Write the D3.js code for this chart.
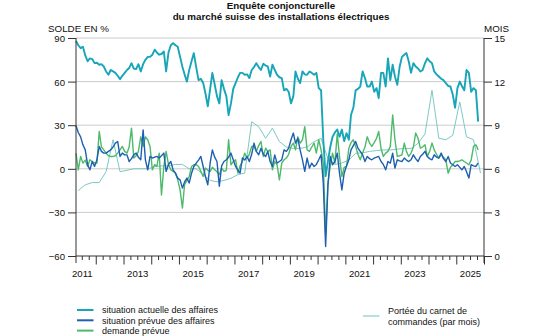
<!DOCTYPE html>
<html>
<head>
<meta charset="utf-8">
<script src="https://cdn.jsdelivr.net/npm/d3@7"></script>
<style>
  body { margin: 0; background: #fff; }
  svg { display: block; font-family: "Liberation Sans", Arial, sans-serif; }
</style>
</head>
<body>
<svg id="chart" width="560" height="336"></svg>
<script>
// Monthly balances, April 2011 – October 2025 (one row per calendar year)
const actuelle = [
  88, 85, 83, 84, 78, 74, 76, 75.5, 72.7,
  73, 71.6, 72, 70.4, 67, 64.7, 68, 67, 66, 64, 61.7, 64,
  66, 68, 69.3, 72.7, 69, 68.6, 72, 67, 72, 75, 77, 77,
  78.5, 82, 80, 78.5, 79, 80.7, 67, 80, 85, 86.5, 85, 84,
  77, 70, 65, 60, 68, 74, 79.6, 70, 61, 62, 59, 52,
  43, 55, 66, 58, 50, 45, 61, 55, 50, 37, 45, 55,
  59, 63, 66, 66, 64.7, 65, 62.4, 68, 70, 72.7, 70, 68,
  72.3, 71, 70.4, 63.5, 71.6, 68, 64.7, 63, 62.4, 54, 55, 53,
  45, 50, 67, 62, 59, 67, 65, 64.7, 67, 66, 64.7, 66,
  55.5, 54, 20, -5, 5, 15, 22, 25, 27, 22, 27, 19,
  24.5, 20, 37, 42, 54, 55, 56.6, 67, 62.4, 56.6, 56.6, 60,
  53, 55.5, 48.6, 66, 66, 56.6, 76, 61, 71.6, 63.5, 57.8, 70,
  77, 78.5, 79.6, 73.8, 66, 72.7, 70.4, 69, 67, 68, 72.7, 76,
  74, 72.7, 67, 65, 63.5, 62, 61, 59, 57, 56.6, 51, 42,
  55.5, 60, 57, 54, 68, 66, 53, 55.5, 54, 32.5
];
const prevue = [
  29.6, 25, 22, 16.5, 13, 2.8, -0.7, 5, 1.6,
  6, 15.4, 12, 10.8, 10.8, 12, 13, 15, 17.7, 18.8, 8.5, 10.8,
  9.6, 9.6, 5, 7, 9.6, 10.8, 8, 6.2, 26.8, 6.2, -0.7, 8.5,
  7.4, 8, 8.5, 7.4, 9, 10.8, -1.8, 3, 5, -0.7, -3, -6.4,
  -7.6, -13.3, -9, -6.4, -9.8, -3, 1.6, 3.9, 6, 8.5, 1.6, -5.3,
  -11, 4, 13, 8, 5, -12, 2, 5, 6.2, 8, 10.8, 6.2,
  1.6, -1, -3, 7.4, 6, 8.5, 5, 10, 17.7, 12, 9.6, 14.2,
  10, 8.5, 12, 5, 1.6, 9.6, 3.9, 5, 6.2, 13, 12, 14.2,
  20, 24.6, 17.7, 21, 13, 6.2, -1.8, 7.4, 0.5, 3.9, 1.6, 3,
  6.2, 9.6, -9.8, -53.5, -12, 8.5, 2.8, 5, 10.8, -3, -14.5, -3,
  2, 6.2, 13, 16, 18.8, 14.2, 12, 9.6, 5, 8.5, 7, 6.2,
  7.4, 8, 8.5, 5, 3, -0.7, 5, 3.9, 10.8, 0.5, 6.2, 5.5,
  5, 7.4, 6, 5, 6.2, 9.6, 7, 5, 8.5, 10, 12, 8.5,
  7, 6.2, 9.6, 8, 7.4, 10.8, 7, 5, 8.5, 4, 2.8, 1.6,
  2.8, 1, -0.7, 1.6, -2, -6.4, 2.8, 2, 1.6, 3.9
];
const demande = [
  10.8, -0.7, 8.5, 3.9, 6, 1.6, 6.2, 5, 4,
  3.9, 25.7, 15, 13, 10.8, 9, 8.5, 8.5, 9, 10.8, 13, 15.4,
  12, 10.8, 15, 28, 7.4, 9, 12, 22, 15.4, 22, 20, 15.4,
  -0.7, 3, 1.6, 10.8, -18, 1.6, 12, 3, -0.7, -1.8, -3, -7.6,
  -14.5, -27, -11, -8, -5.3, 1.6, 2.8, 3, 1.6, -1.8, -5.3, 0.5,
  -1, -1.8, 1, -0.7, -2, -4, 0.5, -1.8, -1, 20, 2.8, 5,
  6.2, -3, 2, 5, 10.8, 7.4, 10, 15.4, 15.4, 12, 16, 18.8,
  8.5, 14.2, 12, 13, -0.7, 5, 2.8, -7.6, 4, 6.2, 7.4, 10,
  15.4, 17.7, 13, 22, 17.7, 20, 29, 13, 12, 15, 17.7, 10.8,
  20, 13, 3.9, -45, -10, 1.6, 10.8, 3.9, 24, 8.5, -5.3, 1,
  1.6, 14.2, 18, 20, 15.4, 10, 6.2, 10.8, 15, 22, 17.7, 15.4,
  18, 21, 25.7, 14, 8.5, 10.8, 12, 15.4, 37, 20, 8.5, 9,
  9.6, 17.7, 12, 8.5, 10.8, 15, 24.6, 21, 14.2, 15, 16.5, 8.5,
  12, 17.7, 13, 10, 7.4, 9.6, 8, 6.2, -3, 1, 2.8, 5,
  5, 5.5, 6.2, 5, 4, 2.8, 6, 15.4, 16.5, 13
];
// Order book reach in months, quarterly from May 2011
const portee = [
  4.5, 4.9, 5.05, 5.05, 5.8, 8.0, 5.8, 5.9, 6.0, 6.0, 6.0, 6.15,
  6.2, 6.2, 6.3, 6.3, 6.0, 6.0, 5.6, 5.2, 5.1, 5.2, 5.35, 5.6,
  5.7, 9.24, 8.9, 8.1, 8.8, 7.87, 7.5, 7.4, 7.4, 7.5, 7.87, 8.1,
  6.7, 6.3, 6.4, 6.6, 7.07, 7.1, 7.2, 7.25, 7.3, 7.3, 7.35, 7.4,
  7.4, 7.75, 8.4, 11.4, 8.1, 8.0, 8.3, 10.6, 8.2, 8.0, 5.7
];

const leftTicks = [-60, -30, 0, 30, 60, 90];
const rightTicks = [0, 3, 6, 9, 12, 15];
const yearLabels = [2011, 2013, 2015, 2017, 2019, 2021, 2023, 2025];

const COL = { actuelle: "#17a5b8", prevue: "#1d5fb0", demande: "#4cb96b", portee: "#6cc3bd" };

const monthDate = (i) => new Date(2011, 3 + i, 16);

const L = 76, R = 484, T = 38, B = 256;
const svg = d3.select("#chart");

const x = d3.scaleTime().domain([new Date(2011, 3, 16), new Date(2026, 0, 1)]).range([L, R]);
const yL = d3.scaleLinear().domain([-60, 90]).range([B, T]);
const yR = d3.scaleLinear().domain([0, 15]).range([B, T]);

// title
svg.append("g").attr("font-size", 9.8).attr("font-weight", "bold").attr("text-anchor", "middle")
  .selectAll("text").data(["Enquête conjoncturelle", "du marché suisse des installations électriques"])
  .join("text").attr("x", 281).attr("y", (d, i) => 9 + i * 11.3).attr("fill", "#111").text((d) => d);

svg.append("text").attr("x", 48).attr("y", 32).attr("font-size", 9.8).attr("fill", "#111").text("SOLDE EN %");
svg.append("text").attr("x", 484).attr("y", 32).attr("font-size", 9.8).attr("fill", "#111").text("MOIS");

// gridlines
svg.append("g").selectAll("line").data(leftTicks.filter((v) => v > -60)).join("line")
  .attr("x1", L).attr("x2", R).attr("y1", (d) => yL(d)).attr("y2", (d) => yL(d))
  .attr("stroke", "#cccccc").attr("stroke-width", 1);

// series
const lineL = d3.line().x((d) => x(d.date)).y((d) => yL(d.v));
const lineR = d3.line().x((d) => x(d.date)).y((d) => yR(d.v));
const monthly = (arr) => arr.map((v, i) => ({ date: monthDate(i), v }));

const plot = svg.append("g").attr("fill", "none").attr("stroke-linejoin", "round");
plot.append("path").datum(portee.map((v, k) => ({ date: monthDate(1 + 3 * k), v })))
  .attr("d", lineR).attr("stroke", COL.portee).attr("stroke-width", 0.9);
plot.append("path").datum(monthly(demande)).attr("d", lineL).attr("stroke", COL.demande).attr("stroke-width", 1.4);
plot.append("path").datum(monthly(prevue)).attr("d", lineL).attr("stroke", COL.prevue).attr("stroke-width", 1.4);
plot.append("path").datum(monthly(actuelle)).attr("d", lineL).attr("stroke", COL.actuelle).attr("stroke-width", 1.9);

// axes
const axisCol = "#333";
const gl = svg.append("g").attr("transform", `translate(${L},0)`)
  .call(d3.axisLeft(yL).tickValues(leftTicks).tickSize(8).tickPadding(3));
const gr = svg.append("g").attr("transform", `translate(${R},0)`)
  .call(d3.axisRight(yR).tickValues(rightTicks).tickSize(8).tickPadding(2.5));

const quarters = d3.timeMonth.every(3).range(new Date(2011, 6, 1), new Date(2026, 0, 2));
const gq = svg.append("g").attr("transform", `translate(0,${B})`)
  .call(d3.axisBottom(x).tickValues(quarters).tickSize(4).tickFormat(""));
gq.selectAll(".tick line").attr("y2", (d) => (d.getMonth() === 0 ? 8.5 : 4));

const gy = svg.append("g").attr("transform", `translate(0,${B})`)
  .call(d3.axisBottom(x).tickValues(yearLabels.map((y) => new Date(y, 6, 1)))
    .tickSize(0).tickPadding(14.5).tickFormat(d3.timeFormat("%Y")));

[gl, gr, gq, gy].forEach((g) => {
  g.select(".domain").remove();
  g.selectAll(".tick line").attr("stroke", axisCol);
  g.selectAll("text").attr("font-size", 9.6).attr("fill", "#111").attr("font-family", null);
});
gl.selectAll("text").attr("dy", "0.36em");
gr.selectAll("text").attr("dy", "0.36em");

svg.append("line").attr("x1", L).attr("x2", R).attr("y1", B).attr("y2", B).attr("stroke", axisCol);
[L, R].forEach((xx) => svg.append("line").attr("x1", xx).attr("x2", xx).attr("y1", T).attr("y2", B + 7)
  .attr("stroke", axisCol));

// legend
const legend = [
  { key: "actuelle", label: ["situation actuelle des affaires"], x: 77, y: 310, w: 2 },
  { key: "prevue", label: ["situation prévue des affaires"], x: 77, y: 320.3, w: 2 },
  { key: "demande", label: ["demande prévue"], x: 77, y: 330.6, w: 2 },
  { key: "portee", label: ["Portée du carnet de", "commandes (par mois)"], x: 363, y: 316, w: 1 }
];
const lg = svg.append("g").attr("font-size", 9).attr("fill", "#111");
legend.forEach((d) => {
  lg.append("line").attr("x1", d.x).attr("x2", d.x + 16.5).attr("y1", d.y).attr("y2", d.y)
    .attr("stroke", COL[d.key]).attr("stroke-width", d.w);
  const n = d.label.length;
  d.label.forEach((t, i) => lg.append("text").attr("x", d.x + 25)
    .attr("y", d.y + 3.2 + (i - (n - 1) / 2) * 10.7).text(t));
});
</script>
</body>
</html>
